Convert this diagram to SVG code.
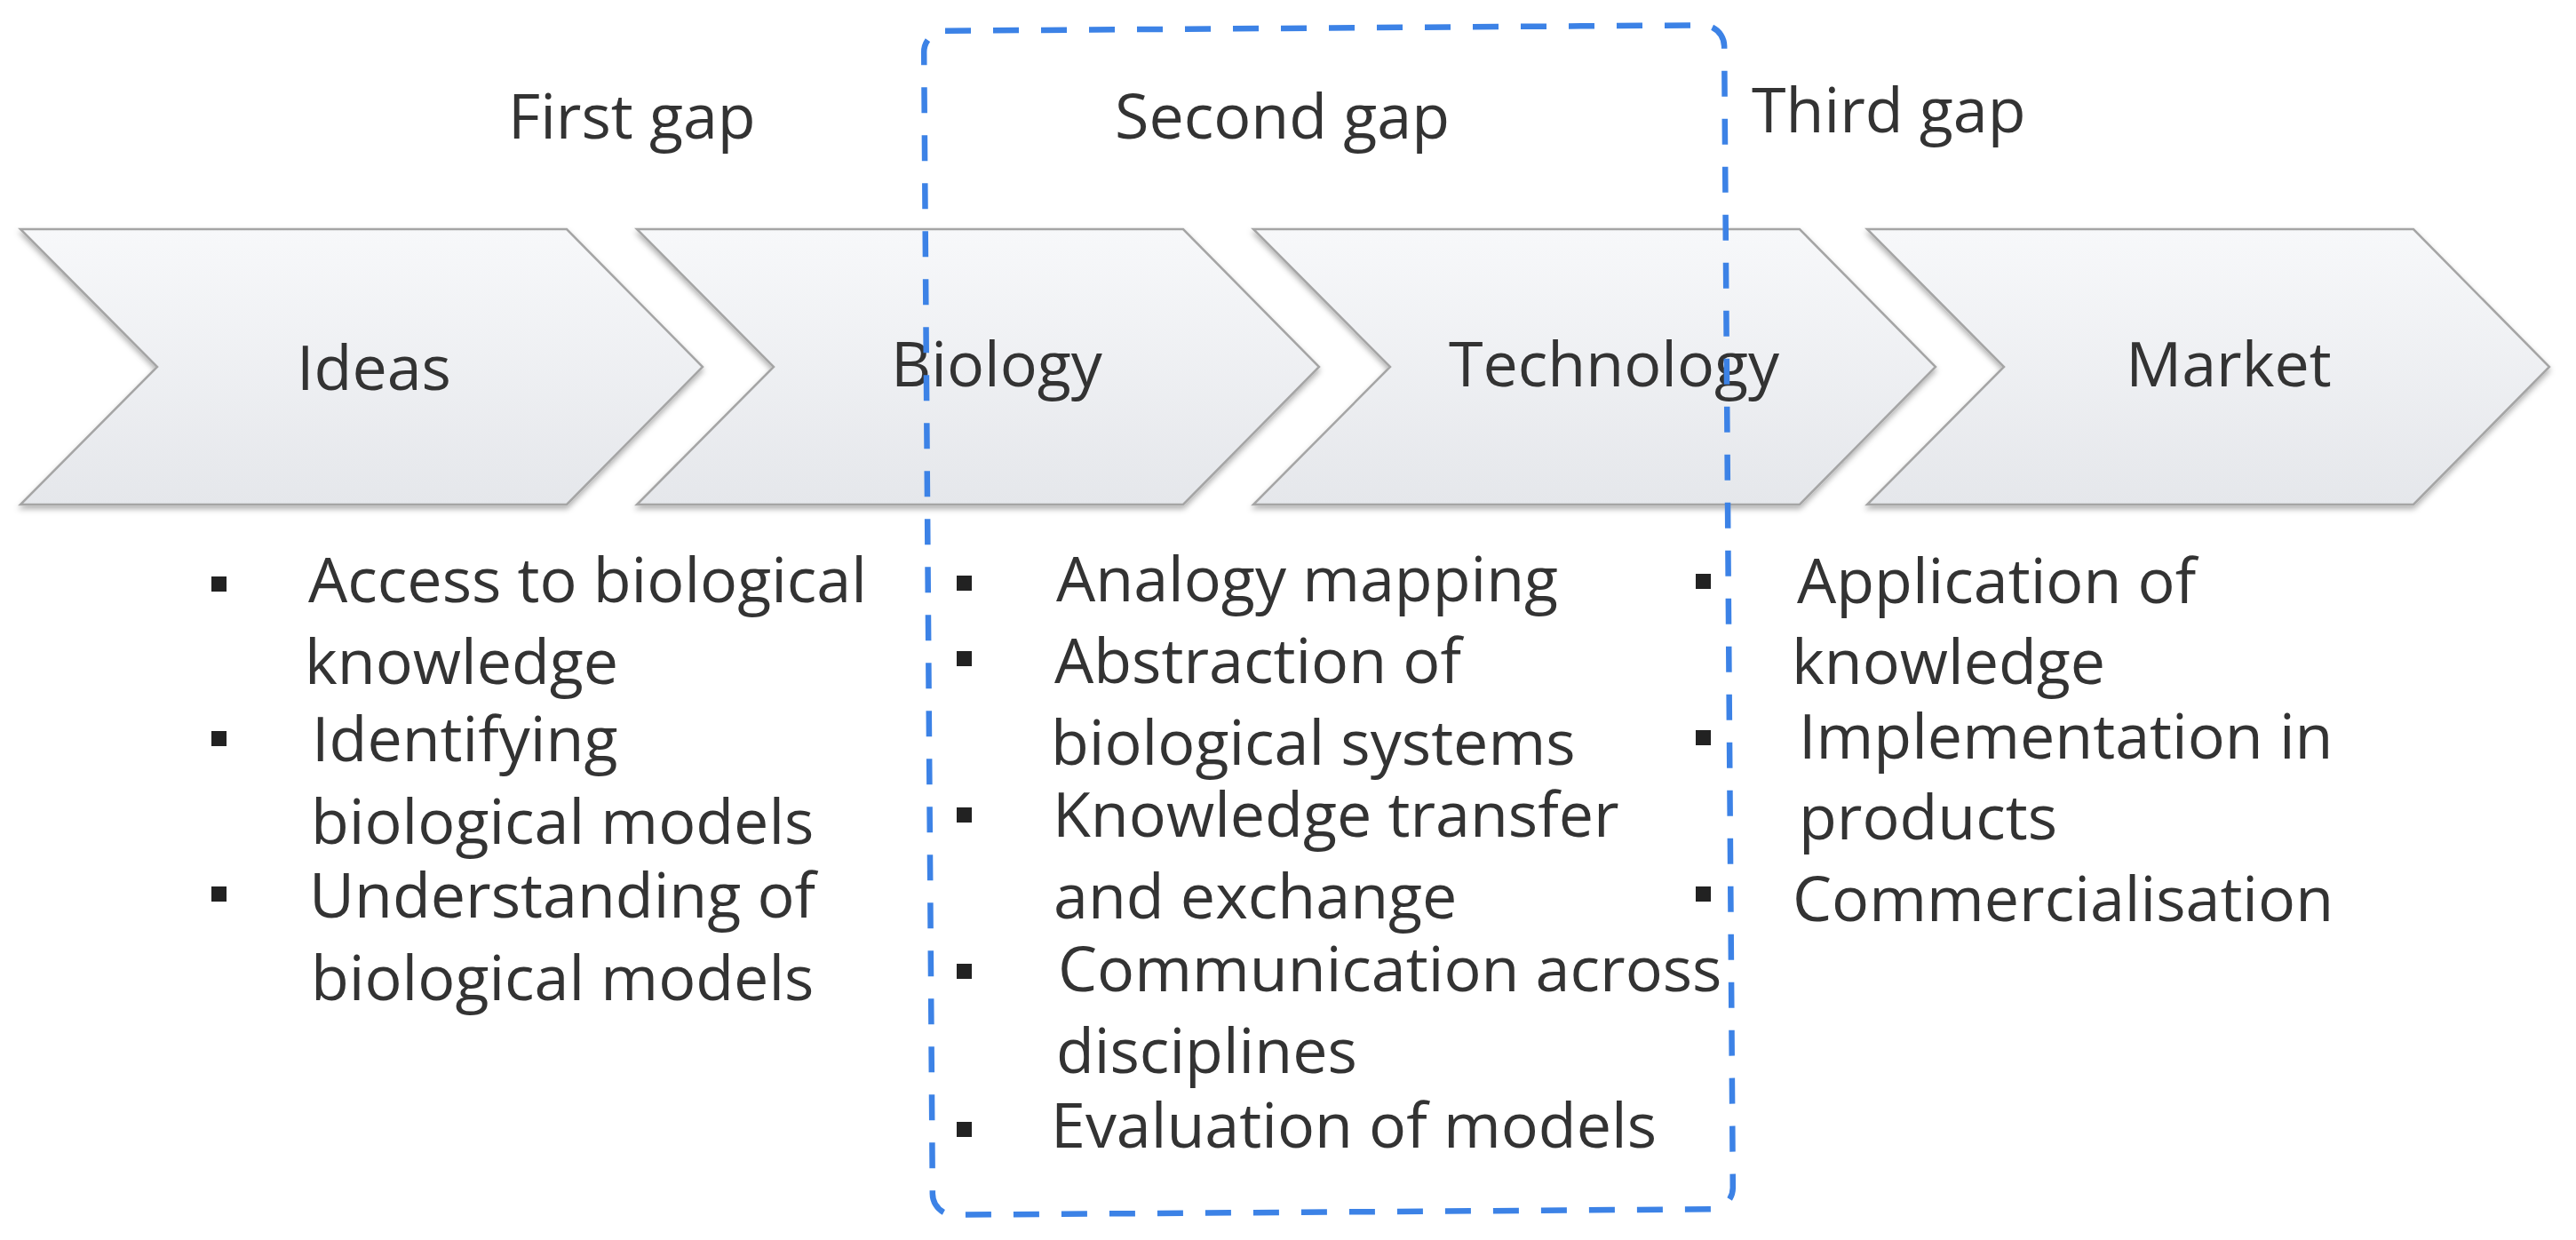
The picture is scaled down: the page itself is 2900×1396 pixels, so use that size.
<svg xmlns="http://www.w3.org/2000/svg" width="2900" height="1396" viewBox="0 0 2900 1396">
<defs>
<linearGradient id="chevFill" x1="0" y1="0" x2="0" y2="1">
<stop offset="0" stop-color="#f7f8fa"/>
<stop offset="1" stop-color="#e5e7eb"/>
</linearGradient>
<filter id="shadow" x="-5%" y="-10%" width="110%" height="125%">
<feDropShadow dx="0" dy="4" stdDeviation="3" flood-color="#000" flood-opacity="0.3"/>
</filter>
</defs>
<style>
.chev{fill:url(#chevFill);stroke:#a5a5a5;stroke-width:2.5;stroke-linejoin:miter;filter:url(#shadow)}
.t{font-family:"Open Sans","Liberation Sans",sans-serif;font-size:70px;fill:#333}
.c{text-anchor:middle}
.b{fill:#222}
.box{fill:none;stroke:#3c82e6;stroke-width:6.5;stroke-dasharray:29 25}
</style>
<rect width="2900" height="1396" fill="#ffffff"/>

<g id="gap-labels">
<text class="t" x="572" y="156">First gap</text>
<text class="t" x="1255" y="156">Second gap</text>
<text class="t" x="1972" y="149">Third gap</text>
</g>

<g id="node-ideas">
<path class="chev" d="M23,258 H638 L791,413 L638,568 H23 L177,413 Z"/>
<text class="t c" x="421" y="439">Ideas</text>
</g>
<g id="node-biology">
<path class="chev" d="M717,258 H1332 L1485,413 L1332,568 H717 L871,413 Z"/>
<text class="t c" x="1122" y="435">Biology</text>
</g>
<g id="node-technology">
<path class="chev" d="M1411,258 H2026 L2179,413 L2026,568 H1411 L1565,413 Z"/>
<text class="t c" x="1817" y="435">Technology</text>
</g>
<g id="node-market">
<path class="chev" d="M2102,258 H2717 L2870,413 L2717,568 H2102 L2256,413 Z"/>
<text class="t c" x="2509" y="435">Market</text>
</g>

<g id="list-first-gap">
<rect class="b" x="238" y="649" width="17" height="17"/>
<rect class="b" x="238" y="823" width="17" height="17"/>
<rect class="b" x="238" y="998" width="17" height="17"/>
<text class="t" x="347" y="678">Access to biological<tspan x="343" y="770">knowledge</tspan></text>
<text class="t" x="351" y="857">Identifying<tspan x="350" y="950">biological models</tspan></text>
<text class="t" x="348" y="1033">Understanding of<tspan x="350" y="1126">biological models</tspan></text>
</g>

<g id="second-gap-box">
<rect class="box" x="1045" y="31.5" width="901" height="1333" rx="24" ry="24" transform="rotate(-0.43 1495.5 698)"/>
</g>

<g id="list-second-gap">
<rect class="b" x="1077" y="648" width="17" height="17"/>
<rect class="b" x="1077" y="733" width="17" height="17"/>
<rect class="b" x="1077" y="909" width="17" height="17"/>
<rect class="b" x="1077" y="1085" width="17" height="17"/>
<rect class="b" x="1077" y="1263" width="17" height="17"/>
<text class="t" x="1189" y="677">Analogy mapping</text>
<text class="t" x="1187" y="769">Abstraction of<tspan x="1183" y="861">biological systems</tspan></text>
<text class="t" x="1185" y="942">Knowledge transfer<tspan x="1186" y="1034">and exchange</tspan></text>
<text class="t" x="1191" y="1116">Communication across<tspan x="1189" y="1208">disciplines</tspan></text>
<text class="t" x="1183" y="1292">Evaluation of models</text>
</g>

<g id="list-third-gap">
<rect class="b" x="1909" y="646" width="17" height="17"/>
<rect class="b" x="1909" y="822" width="17" height="17"/>
<rect class="b" x="1909" y="998" width="17" height="17"/>
<text class="t" x="2023" y="679">Application of<tspan x="2017" y="770">knowledge</tspan></text>
<text class="t" x="2025" y="854">Implementation in<tspan x="2025" y="945">products</tspan></text>
<text class="t" x="2018" y="1037">Commercialisation</text>
</g>

<g id="connectors"></g>
</svg>
